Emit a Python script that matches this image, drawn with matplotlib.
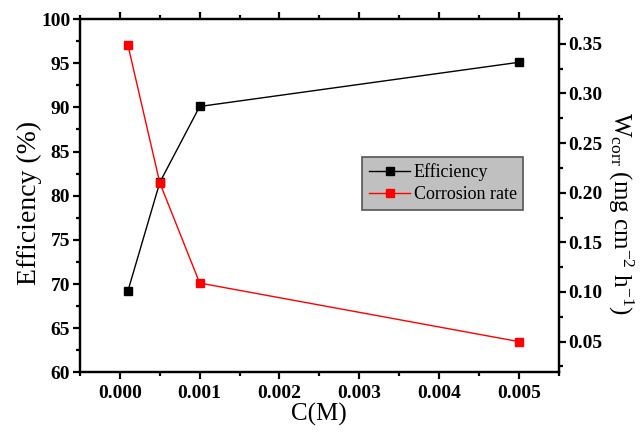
import matplotlib
matplotlib.use("Agg")
import matplotlib.pyplot as plt
from matplotlib.ticker import MultipleLocator

# data
conc = [0.0001, 0.0005, 0.001, 0.005]
efficiency = [69.2, 81.5, 90.1, 95.1]
corr_rate = [0.349, 0.210, 0.109, 0.050]

plt.rcParams["font.family"] = ["Liberation Serif", "DejaVu Serif"]
plt.rcParams["mathtext.fontset"] = "custom"
plt.rcParams["mathtext.rm"] = "Liberation Serif"
plt.rcParams["mathtext.it"] = "Liberation Serif"

fig = plt.figure(figsize=(6.4, 4.32), dpi=100)
ax1 = fig.add_axes([0.125, 0.138, 0.748, 0.818])
ax2 = ax1.twinx()

l1, = ax1.plot(conc, efficiency, color="black", lw=1, marker="s", ms=5.5,
               label="Efficiency")
l2, = ax2.plot(conc, corr_rate, color="red", lw=1, marker="s", ms=5.5,
               label="Corrosion rate")

ax1.set_xlim(-0.0005, 0.0055)
ax1.set_ylim(60, 100)
ax2.set_ylim(0.019, 0.375)

ax1.xaxis.set_major_locator(MultipleLocator(0.001))
ax1.xaxis.set_minor_locator(MultipleLocator(0.0005))
ax1.yaxis.set_major_locator(MultipleLocator(5))
ax1.yaxis.set_minor_locator(MultipleLocator(2.5))
ax2.yaxis.set_major_locator(MultipleLocator(0.05))
ax2.yaxis.set_minor_locator(MultipleLocator(0.025))
ax1.xaxis.set_major_formatter(lambda v, p: f"{v:.3f}")
ax2.yaxis.set_major_formatter(lambda v, p: f"{v:.2f}")

for ax in (ax1, ax2):
    for s in ax.spines.values():
        s.set_linewidth(1.6)
    ax.tick_params(which="major", direction="out", length=5, width=1.6,
                   labelsize=14, pad=2)
    ax.tick_params(which="minor", direction="out", length=3, width=1.6)
ax1.tick_params(axis="x", which="both", top=True)
ax1.tick_params(axis="x", which="major", pad=4)
for lab in ax1.get_xticklabels() + ax1.get_yticklabels() + ax2.get_yticklabels():
    lab.set_fontweight("bold")

ax1.set_xlabel("C(M)", fontsize=18, labelpad=1)
ax1.set_ylabel("Efficiency (%)", fontsize=20)
ax1.yaxis.set_label_coords(-0.08, 0.48)
ax2.set_ylabel(r"W$_{\mathrm{corr}}$ (mg cm$^{-2}$ h$^{-1}$)", fontsize=18,
               rotation=270)
ax2.yaxis.set_label_coords(1.16, 0.45)

leg = ax2.legend(handles=[l1, l2], loc="upper left", bbox_to_anchor=(0.59, 0.61),
                 borderaxespad=0, fontsize=13, fancybox=False, frameon=True,
                 handlelength=2.3, handletextpad=0.2, borderpad=0.35,
                 labelspacing=0.3)
leg.get_frame().set_facecolor("#c0c0c0")
leg.get_frame().set_edgecolor("#555555")
leg.get_frame().set_linewidth(1.2)
leg.get_frame().set_alpha(1)

fig.savefig("out.png", dpi=100)
